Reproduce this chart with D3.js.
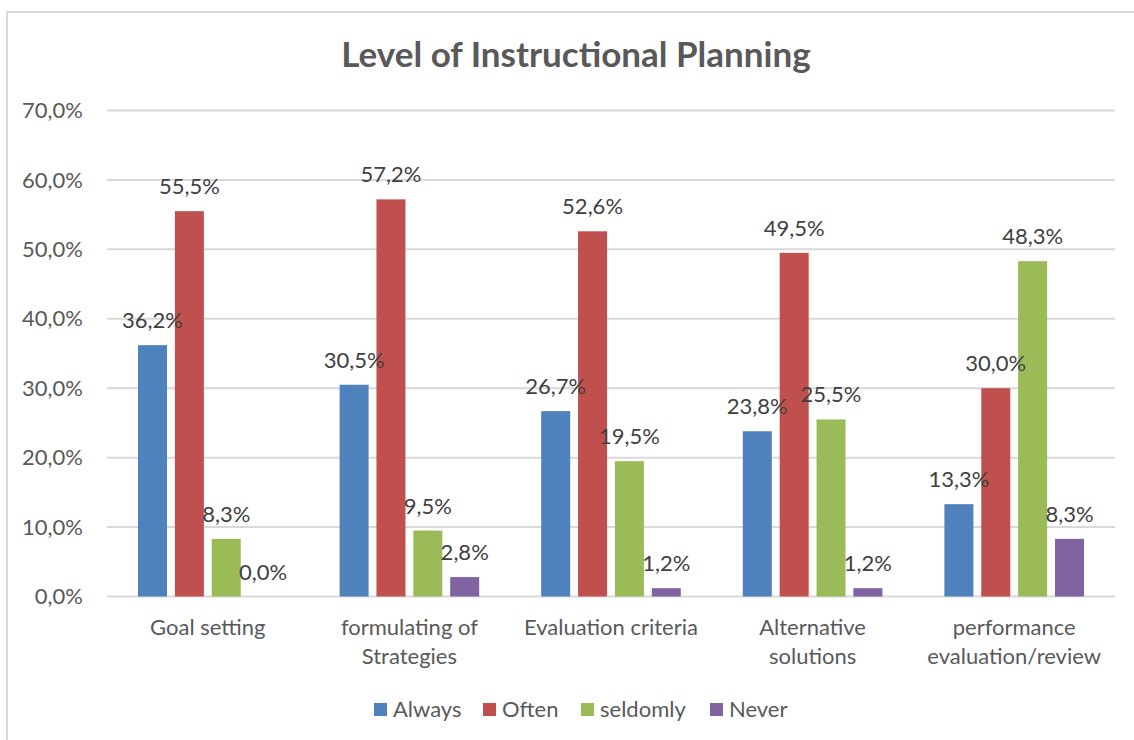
<!DOCTYPE html>
<html>
<head>
<meta charset="utf-8">
<script src="https://cdn.jsdelivr.net/npm/d3@7"></script>
<style>
  body { margin: 0; background: #fff; }
  svg { display: block; font-family: Lato, "Open Sans", sans-serif; }
</style>
</head>
<body>
<svg id="chart" width="1134" height="740"></svg>
<script>
    // data
    var categories = [["Goal setting"], ["formulating of", "Strategies"], ["Evaluation criteria"],
        ["Alternative", "solutions"], ["performance", "evaluation/review"]];
    var seriesNames = ["Always", "Often", "seldomly", "Never"];
    var always   = [36.2, 30.5, 26.7, 23.8, 13.3];
    var often    = [55.5, 57.2, 52.6, 49.5, 30.0];
    var seldomly = [8.3, 9.5, 19.5, 25.5, 48.3];
    var never    = [0.0, 2.8, 1.2, 1.2, 8.3];
    var yTicks = [0, 10, 20, 30, 40, 50, 60, 70];

    var colors = ["#4F81BD", "#C0504D", "#9BBB59", "#8064A2"];
    var textCol = "#595959";
    var values = [always, often, seldomly, never];

    var svg = d3.select("#chart");

    // chart frame (right and bottom edge run off the picture)
    svg.append("path")
        .attr("d", "M7,745 L7,12 L1140,12")
        .attr("fill", "none")
        .attr("stroke", "#D9D9D9")
        .attr("stroke-width", 2);

    svg.append("text")
        .attr("x", 576).attr("y", 67)
        .attr("text-anchor", "middle")
        .attr("font-size", 35).attr("font-weight", "bold")
        .attr("fill", textCol)
        .text("Level of Instructional Planning");

    var left = 107, right = 1115;
    var x0 = d3.scaleBand().domain(d3.range(categories.length)).range([left, right]);
    var x1 = d3.scaleBand().domain(d3.range(seriesNames.length))
        .range([31, x0.bandwidth() - 31]).paddingInner(0.213);
    var y = d3.scaleLinear().domain([0, 70]).range([596.5, 110.5]);

    //格線
    svg.append("g").selectAll("line")
        .data(yTicks).enter().append("line")
        .attr("x1", left).attr("x2", right)
        .attr("y1", function(d) { return y(d); })
        .attr("y2", function(d) { return y(d); })
        .attr("stroke", "#D9D9D9")
        .attr("stroke-width", 2);

    svg.append("g").selectAll("text")
        .data(yTicks).enter().append("text")
        .attr("x", 83)
        .attr("y", function(d) { return y(d); })
        .attr("dy", "0.35em")
        .attr("text-anchor", "end")
        .attr("font-size", 22)
        .attr("fill", textCol)
        .text(function(d) { return d.toFixed(1).replace(".", ",") + "%"; });

    var groups = svg.append("g").selectAll("g")
        .data(categories).enter().append("g")
        .attr("transform", function(d, i) { return "translate(" + x0(i) + ",0)"; });

    groups.selectAll("rect")
        .data(function(d, i) { return values.map(function(s) { return s[i]; }); })
        .enter().append("rect")
        .attr("x", function(d, j) { return x1(j); })
        .attr("y", function(d) { return y(d); })
        .attr("width", x1.bandwidth())
        .attr("height", function(d) { return y(0) - y(d); })
        .attr("fill", function(d, j) { return colors[j]; });

    groups.selectAll("text.val")
        .data(function(d, i) { return values.map(function(s) { return s[i]; }); })
        .enter().append("text")
        .attr("class", "val")
        .attr("x", function(d, j) { return x1(j) + x1.bandwidth() / 2; })
        .attr("y", function(d) { return y(d) - 17; })
        .attr("text-anchor", "middle")
        .attr("font-size", 22)
        .attr("fill", "#404040")
        .text(function(d) { return d.toFixed(1).replace(".", ",") + "%"; });

    groups.each(function(lines) {
        var t = d3.select(this).append("text")
            .attr("text-anchor", "middle")
            .attr("font-size", 22)
            .attr("fill", textCol);
        lines.forEach(function(l, k) {
            t.append("tspan")
                .attr("x", x0.bandwidth() / 2)
                .attr("y", 635 + k * 29)
                .text(l);
        });
    });

    // legend
    var legendX = [374, 483, 581, 710];
    var legend = svg.append("g").selectAll("g")
        .data(seriesNames).enter().append("g")
        .attr("transform", function(d, i) { return "translate(" + legendX[i] + ",703)"; });
    legend.append("rect")
        .attr("width", 13).attr("height", 13)
        .attr("fill", function(d, i) { return colors[i]; });
    legend.append("text")
        .attr("x", 19).attr("y", 14)
        .attr("font-size", 22)
        .attr("fill", textCol)
        .text(function(d) { return d; });
</script>
</body>
</html>
